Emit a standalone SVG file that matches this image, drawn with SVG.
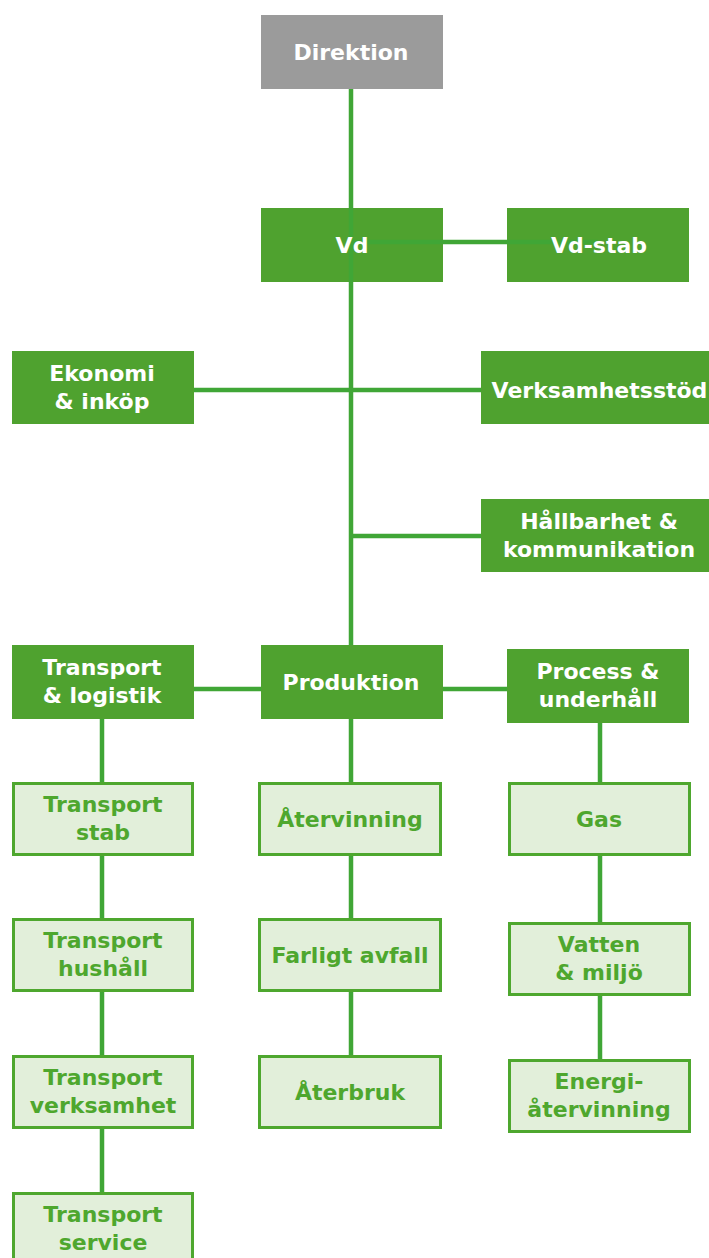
<svg xmlns="http://www.w3.org/2000/svg" width="709" height="1258" viewBox="0 0 709 1258">
<style>
.gray{fill:#9b9b9b}
.dark{fill:#4fa22f}
.light{fill:#e2efda;stroke:#4ea72e;stroke-width:3}
.ln{stroke:#40a636;stroke-width:4.5;fill:none}
text{font-family:"DejaVu Sans",sans-serif;font-weight:bold;font-size:22px;text-anchor:middle}
.w{fill:#ffffff}
.g{fill:#4ea72e}
</style>
<rect width="709" height="1258" fill="#ffffff"/>
<g id="boxes-dark">
<rect id="r-direktion" class="gray" x="261" y="15" width="182" height="74"/>
<rect id="r-vd" class="dark" x="261" y="208" width="182" height="74"/>
<rect id="r-vdstab" class="dark" x="507" y="208" width="182" height="74"/>
<rect id="r-ekonomi" class="dark" x="12" y="351" width="182" height="73"/>
<rect id="r-verksamhet" class="dark" x="481" y="351" width="240" height="73"/>
<rect id="r-hallbarhet" class="dark" x="481" y="499" width="240" height="73"/>
<rect id="r-transport" class="dark" x="12" y="645" width="182" height="74"/>
<rect id="r-produktion" class="dark" x="261" y="645" width="182" height="74"/>
<rect id="r-process" class="dark" x="507" y="649" width="182" height="74"/>
</g>
<g id="connectors">
<line class="ln" x1="351" y1="89" x2="351" y2="645"/>
<line class="ln" x1="351" y1="242" x2="598" y2="242"/>
<line class="ln" x1="194" y1="390" x2="481" y2="390"/>
<line class="ln" x1="351" y1="536" x2="481" y2="536"/>
<line class="ln" x1="194" y1="689" x2="261" y2="689"/>
<line class="ln" x1="443" y1="689" x2="507" y2="689"/>
<line class="ln" x1="102" y1="719" x2="102" y2="1192"/>
<line class="ln" x1="351" y1="719" x2="351" y2="1055"/>
<line class="ln" x1="600" y1="723" x2="600" y2="1059"/>
</g>
<g id="n-direktion"><text class="w" x="351" y="60">Direktion</text></g>
<g id="n-vd"><text class="w" x="352" y="253">Vd</text></g>
<g id="n-vdstab"><text class="w" x="599" y="253">Vd-stab</text></g>
<g id="n-ekonomi"><text class="w" x="102" y="381">Ekonomi</text><text class="w" x="102" y="409">&amp; inköp</text></g>
<g id="n-verksamhet"><text class="w" x="599.5" y="398">Verksamhetsstöd</text></g>
<g id="n-hallbarhet"><text class="w" x="599" y="529">Hållbarhet &amp;</text><text class="w" x="599" y="557">kommunikation</text></g>
<g id="n-transport"><text class="w" x="102" y="675">Transport</text><text class="w" x="102" y="703">&amp; logistik</text></g>
<g id="n-produktion"><text class="w" x="351" y="690">Produktion</text></g>
<g id="n-process"><text class="w" x="598" y="679">Process &amp;</text><text class="w" x="598" y="707">underhåll</text></g>
<g id="n-tstab"><rect class="light" x="13.5" y="783.5" width="179" height="71"/><text class="g" x="103" y="812">Transport</text><text class="g" x="103" y="840">stab</text></g>
<g id="n-thushall"><rect class="light" x="13.5" y="919.5" width="179" height="71"/><text class="g" x="103" y="948">Transport</text><text class="g" x="103" y="976">hushåll</text></g>
<g id="n-tverksamhet"><rect class="light" x="13.5" y="1056.5" width="179" height="71"/><text class="g" x="103" y="1085">Transport</text><text class="g" x="103" y="1113">verksamhet</text></g>
<g id="n-tservice"><rect class="light" x="13.5" y="1193.5" width="179" height="71"/><text class="g" x="103" y="1222">Transport</text><text class="g" x="103" y="1250">service</text></g>
<g id="n-atervinning"><rect class="light" x="259.5" y="783.5" width="181" height="71"/><text class="g" x="350" y="827">Återvinning</text></g>
<g id="n-farligt"><rect class="light" x="259.5" y="919.5" width="181" height="71"/><text class="g" x="350" y="963">Farligt avfall</text></g>
<g id="n-aterbruk"><rect class="light" x="259.5" y="1056.5" width="181" height="71"/><text class="g" x="350" y="1100">Återbruk</text></g>
<g id="n-gas"><rect class="light" x="509.5" y="783.5" width="180" height="71"/><text class="g" x="599" y="827">Gas</text></g>
<g id="n-vatten"><rect class="light" x="509.5" y="923.5" width="180" height="71"/><text class="g" x="599" y="952">Vatten</text><text class="g" x="599" y="980">&amp; miljö</text></g>
<g id="n-energi"><rect class="light" x="509.5" y="1060.5" width="180" height="71"/><text class="g" x="599" y="1089">Energi-</text><text class="g" x="599" y="1117">återvinning</text></g>
</svg>
